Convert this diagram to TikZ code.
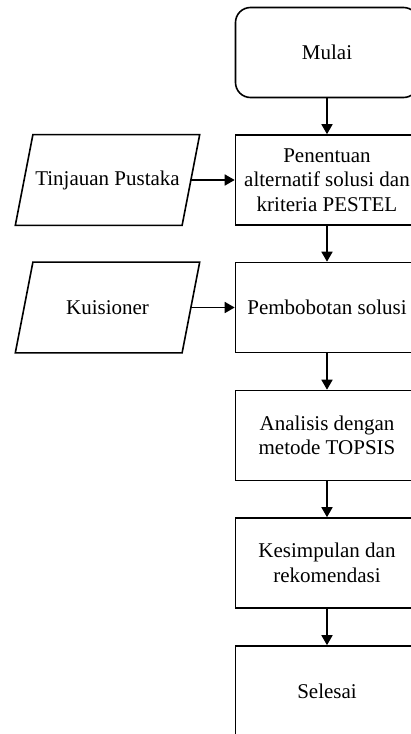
\documentclass[tikz,border=0pt]{standalone}
\usepackage{fontspec}
\setmainfont{Liberation Serif}
\usetikzlibrary{arrows.meta}

\tikzset{
  garis/.style={line width=0.8pt},
  prosesbox/.style={draw, garis, minimum width=91.5pt, minimum height=45pt,
    align=center, inner sep=2pt, font=\fontsize{10.5}{12.2}\selectfont},
  mulaibox/.style={prosesbox, rounded corners=7.5pt},
  databox/.style={minimum width=83pt, minimum height=45pt, inner sep=0pt,
    align=center, font=\fontsize{10.5}{12.2}\selectfont},
  panah/.style={garis, -{Triangle[length=5pt,width=5.5pt]}}
}

\begin{document}
\begin{tikzpicture}[x=0.5pt,y=-0.5pt]
  \useasboundingbox (0,0) rectangle (411,734);
  % Alur utama
  \node[mulaibox] (mulai) at (327,52.5) {Mulai};
  \node[prosesbox] (tentukan) at (327,180) {Penentuan\\alternatif solusi dan\\kriteria PESTEL};
  \node[prosesbox] (bobot) at (327,307.5) {Pembobotan solusi};
  \node[prosesbox] (topsis) at (327,435.5) {Analisis dengan\\metode TOPSIS};
  \node[prosesbox] (simpul) at (327,563) {Kesimpulan dan\\rekomendasi};
  \node[prosesbox] (selesai) at (327,691) {Selesai};
  % Data masukan (jajaran genjang)
  \node[databox] (pustaka) at (107.5,180) {Tinjauan Pustaka};
  \node[databox] (kuisioner) at (107.5,307.5) {Kuisioner};
  \foreach \n in {pustaka,kuisioner}
    \draw[garis] ([xshift=4.4pt]\n.north west) -- ([xshift=4.4pt]\n.north east)
      -- ([xshift=-4.4pt]\n.south east) -- ([xshift=-4.4pt]\n.south west) -- cycle;
  % Panah
  \draw[panah] (mulai) -- (tentukan);
  \draw[panah] (tentukan) -- (bobot);
  \draw[panah] (bobot) -- (topsis);
  \draw[panah] (topsis) -- (simpul);
  \draw[panah] (simpul) -- (selesai);
  \draw[panah] (pustaka) -- (tentukan);
  \draw[panah] (kuisioner) -- (bobot);
\end{tikzpicture}
\end{document}
